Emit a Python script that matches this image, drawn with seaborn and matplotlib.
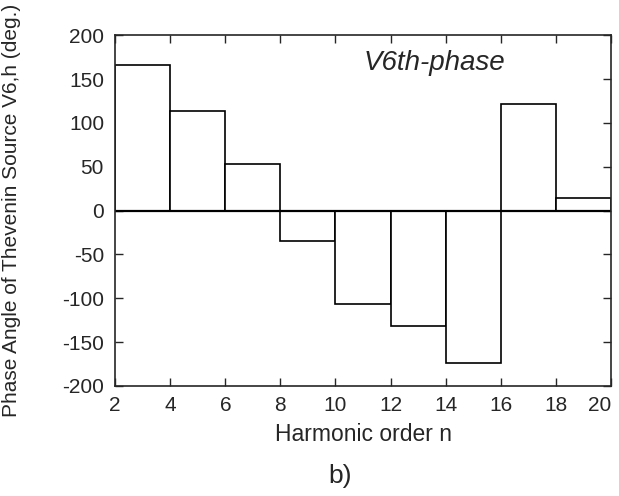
import matplotlib
matplotlib.use("Agg")
import matplotlib.pyplot as plt
import seaborn as sns
import pandas as pd

# -----------------------------
# Data
# -----------------------------
harmonic_mid = [3, 5, 7, 9, 11, 13, 15, 17, 19]
phase_deg = [166, 113, 53, -35, -107, -132, -174, 121, 14]
x_ticks = [2, 4, 6, 8, 10, 12, 14, 16, 18, 20]
y_ticks = [-200, -150, -100, -50, 0, 50, 100, 150, 200]

df = pd.DataFrame({"n": harmonic_mid, "phase": phase_deg})

sns.set_style("ticks")
plt.rcParams["font.family"] = ["Liberation Sans", "DejaVu Sans"]
plt.rcParams["axes.unicode_minus"] = False

fig = plt.figure(figsize=(6.19, 4.96), dpi=100)
ax = fig.add_axes([0.186, 0.222, 0.801, 0.707])

sns.barplot(
    data=df, x="n", y="phase",
    native_scale=True, width=1.0,
    color="white", edgecolor="black", linewidth=1.2,
    saturation=1, ax=ax,
)

ax.axhline(0, color="black", linewidth=1.6)

ax.set_xlim(2, 20)
ax.set_ylim(-200, 200)
ax.set_xticks(x_ticks)
ax.set_yticks(y_ticks)
ax.tick_params(direction="in", top=True, right=True, length=5.5, width=1,
               labelsize=15)
ax.tick_params(axis="x", pad=7)
ax.tick_params(axis="y", pad=8)
ax.get_xticklabels()[-1].set_horizontalalignment("right")
for s in ax.spines.values():
    s.set_linewidth(1.2)

ax.set_xlabel("Harmonic order n", fontsize=16.5, labelpad=6)
ax.set_ylabel("Phase Angle of Thevenin Source V6,h (deg.)", fontsize=15)
ax.yaxis.set_label_coords(-0.19, 0.5)

ax.text(13.6, 168, "V6th-phase", fontsize=20, style="italic", ha="center", va="center")
fig.text(0.549, 0.04, "b)", fontsize=19, ha="center", va="center")

plt.savefig("out.png", dpi=100)
